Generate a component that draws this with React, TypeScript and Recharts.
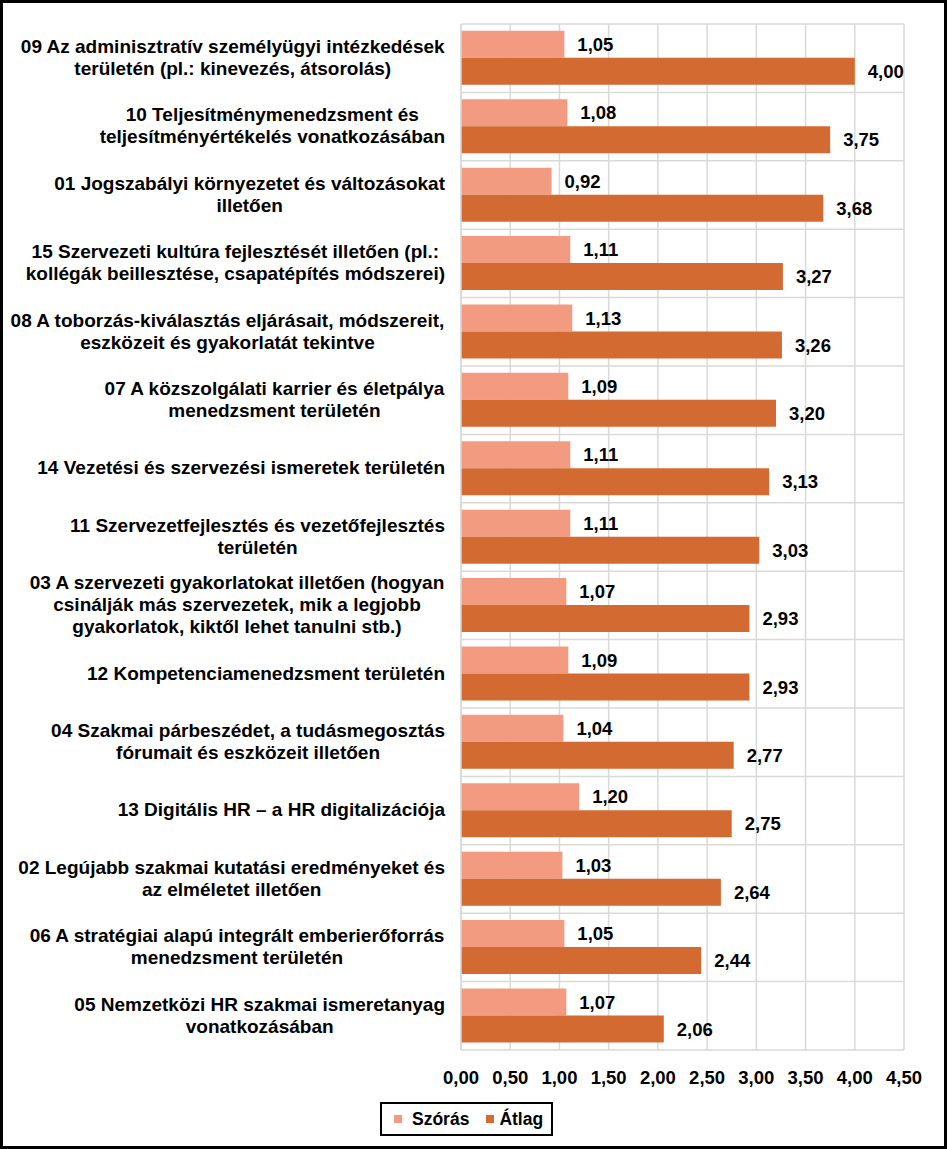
import React from "react";
import { BarChart, Bar, XAxis, YAxis, CartesianGrid, Legend, LabelList } from "recharts";

const categories: string[] = [
  "09 Az adminisztratív személyügyi intézkedések\nterületén (pl.: kinevezés, átsorolás)",
  "10 Teljesítménymenedzsment és\nteljesítményértékelés vonatkozásában",
  "01 Jogszabályi környezetet és változásokat\nilletően",
  "15 Szervezeti kultúra fejlesztését illetően (pl.:\nkollégák beillesztése, csapatépítés módszerei)",
  "08 A toborzás-kiválasztás eljárásait, módszereit,\neszközeit és gyakorlatát tekintve",
  "07 A közszolgálati karrier és életpálya\nmenedzsment területén",
  "14 Vezetési és szervezési ismeretek területén",
  "11 Szervezetfejlesztés és vezetőfejlesztés\nterületén",
  "03 A szervezeti gyakorlatokat illetően (hogyan\ncsinálják más szervezetek, mik a legjobb\ngyakorlatok, kiktől lehet tanulni stb.)",
  "12 Kompetenciamenedzsment területén",
  "04 Szakmai párbeszédet, a tudásmegosztás\nfórumait és eszközeit illetően",
  "13 Digitális HR – a HR digitalizációja",
  "02 Legújabb szakmai kutatási eredményeket és\naz elméletet illetően",
  "06 A stratégiai alapú integrált emberierőforrás\nmenedzsment területén",
  "05 Nemzetközi HR szakmai ismeretanyag\nvonatkozásában",
];

const szoras: number[] = [1.05, 1.08, 0.92, 1.11, 1.13, 1.09, 1.11, 1.11, 1.07, 1.09, 1.04, 1.2, 1.03, 1.05, 1.07];
const atlag: number[] = [4.0, 3.75, 3.68, 3.27, 3.26, 3.2, 3.13, 3.03, 2.93, 2.93, 2.77, 2.75, 2.64, 2.44, 2.06];

const xTicks: number[] = [0, 0.5, 1, 1.5, 2, 2.5, 3, 3.5, 4, 4.5];

const seriesNames = { szoras: "Szórás", atlag: "Átlag" };
const COLOR_SZORAS = "#F29B80";
const COLOR_ATLAG = "#D36A31";
const FONT = "'Liberation Sans', Arial, sans-serif";
const FS = 18.5;
const FS_CAT = 19;

const data = categories.map((name, i) => ({ name, szoras: szoras[i], atlag: atlag[i] }));

const fmt = (v: number) => v.toFixed(2).replace(".", ",");

let ctx: CanvasRenderingContext2D | null = null;
const measure = (t: string) => {
  if (!ctx) {
    const c = document.createElement("canvas");
    ctx = c.getContext("2d");
  }
  if (!ctx) return t.length * 10;
  ctx.font = `bold ${FS_CAT}px ${FONT}`;
  return ctx.measureText(t).width;
};

const CategoryTick = (props: any) => {
  const { x, y, payload } = props;
  const lines: string[] = String(payload.value).split("\n");
  const maxW = Math.max(...lines.map(measure));
  const cx = x - maxW / 2;
  const lh = 22;
  const start = -((lines.length - 1) * lh) / 2 - 1;
  return (
    <g>
      {lines.map((l, i) => (
        <text
          key={i}
          x={cx}
          y={y + start + i * lh}
          dy="0.36em"
          textAnchor="middle"
          fontFamily={FONT}
          fontWeight="bold"
          fontSize={FS_CAT}
          fill="#000"
        >
          {l}
        </text>
      ))}
    </g>
  );
};

const LegendContent = () => (
  <div
    style={{
      border: "2px solid #000",
      background: "#fff",
      width: 173,
      height: 34,
      boxSizing: "border-box",
      display: "flex",
      alignItems: "center",
      fontFamily: FONT,
      fontWeight: "bold",
      fontSize: 17.5,
      color: "#000",
      whiteSpace: "nowrap",
    }}
  >
    <span style={{ display: "inline-block", width: 8, height: 8, background: COLOR_SZORAS, marginLeft: 12, marginRight: 10 }} />
    <span>{seriesNames.szoras}</span>
    <span style={{ display: "inline-block", width: 8, height: 8, background: COLOR_ATLAG, marginLeft: 17, marginRight: 5 }} />
    <span>{seriesNames.atlag}</span>
  </div>
);

export default function App() {
  return (
    <div style={{ position: "absolute", left: 0, top: 0, width: 947, height: 1149, background: "#fff" }}>
      <BarChart
        width={947}
        height={1149}
        data={data}
        layout="vertical"
        margin={{ top: 24, right: 43, bottom: 59, left: 0 }}
        barCategoryGap="10%"
        barGap={0}
      >
        <CartesianGrid
          stroke="#D9D9D9"
          strokeWidth={1.5}
          horizontalCoordinatesGenerator={({ offset }: any) =>
            categories.map((_, i) => offset.top + (i * offset.height) / categories.length).concat([offset.top + offset.height])
          }
        />
        <XAxis
          type="number"
          domain={[0, 4.5]}
          ticks={xTicks}
          tickFormatter={fmt}
          axisLine={false}
          tickLine={false}
          tickSize={0}
          tickMargin={21}
          height={40}
          interval={0}
          tick={{ fill: "#000", fontFamily: FONT, fontWeight: "bold", fontSize: FS }}
        />
        <YAxis
          type="category"
          dataKey="name"
          width={461}
          axisLine={{ stroke: "#D9D9D9", strokeWidth: 1.5 }}
          tickLine={false}
          tickSize={0}
          tickMargin={16}
          interval={0}
          tick={<CategoryTick />}
        />
        <Legend
          layout="horizontal"
          verticalAlign="middle"
          align="center"
          wrapperStyle={{ left: 380, top: 1102, width: 173 }}
          content={<LegendContent />}
        />
        <Bar dataKey="szoras" name={seriesNames.szoras} fill={COLOR_SZORAS} isAnimationActive={false}>
          <LabelList
            dataKey="szoras"
            position="right"
            offset={13}
            formatter={(v: any) => fmt(Number(v))}
            style={{ fill: "#000", fontFamily: FONT, fontWeight: "bold", fontSize: FS }}
          />
        </Bar>
        <Bar dataKey="atlag" name={seriesNames.atlag} fill={COLOR_ATLAG} isAnimationActive={false}>
          <LabelList
            dataKey="atlag"
            position="right"
            offset={13}
            formatter={(v: any) => fmt(Number(v))}
            style={{ fill: "#000", fontFamily: FONT, fontWeight: "bold", fontSize: FS }}
          />
        </Bar>
      </BarChart>
      <div
        style={{
          position: "absolute",
          left: 0,
          top: 0,
          width: 947,
          height: 1149,
          border: "3px solid #000",
          boxSizing: "border-box",
          pointerEvents: "none",
        }}
      />
    </div>
  );
}
